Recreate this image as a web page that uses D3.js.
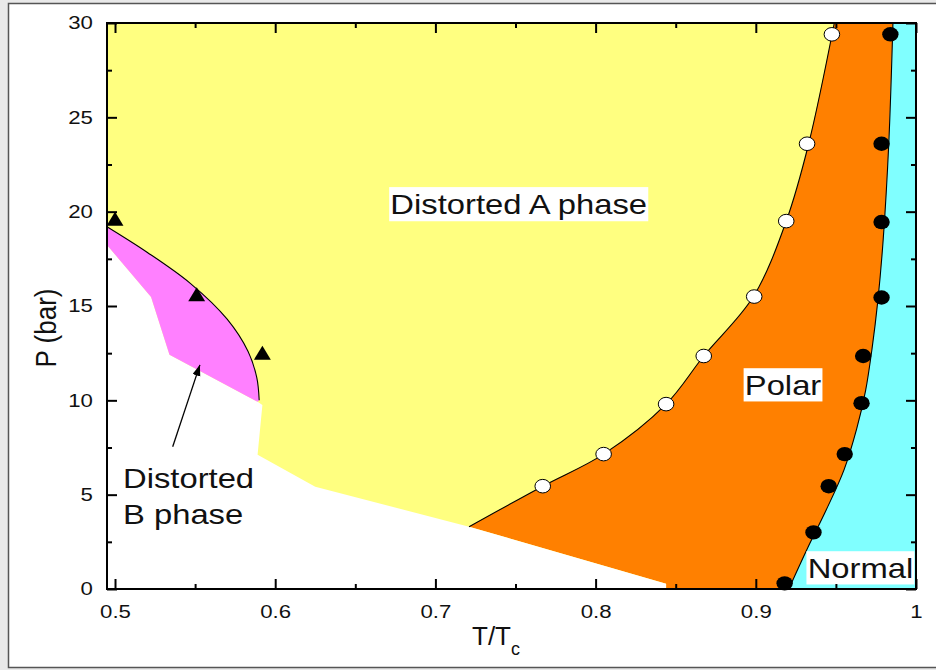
<!DOCTYPE html>
<html>
<head>
<meta charset="utf-8">
<script src="https://cdn.jsdelivr.net/npm/d3@7"></script>
<style>
  html, body { margin: 0; padding: 0; background: #e9e9e9; }
  svg { display: block; font-family: "Liberation Sans", Arial, sans-serif; }
</style>
</head>
<body>
<svg id="chart" width="936" height="670"></svg>
<script>
// phase boundaries, points are [T/Tc, P (bar)]
var bPhaseUpper = [[0.495, 19.2], [0.520, 17.85], [0.547, 16.2], [0.570, 14.3], [0.583, 12.6], [0.5885, 11.2], [0.590, 10.0]];
var bPhaseLower = [[0.589, 9.92], [0.534, 12.41], [0.5225, 15.48], [0.495, 18.23]];
var whiteEdge = [[0.592, 9.75], [0.589, 7.11], [0.625, 5.42], [0.721, 3.30], [0.844, 0.28], [0.844, 0]];
var apLine = [[0.721, 3.30], [0.767, 5.45], [0.805, 7.15], [0.844, 9.8], [0.8675, 12.35], [0.8985, 15.5], [0.919, 19.5], [0.933, 23.6], [0.949, 30]];
var pnLine = [[0.9206, 0], [0.9325, 2.2], [0.944, 4.2], [0.955, 6.3], [0.963, 8.5], [0.9685, 10.5], [0.9725, 12.7], [0.9762, 15.3], [0.9795, 18.5], [0.983, 23.6], [0.9856, 30]];

// measured points
var triPts = [[0.5, 19.5], [0.551, 15.5], [0.592, 12.4]];
var openPts = [[0.767, 5.45], [0.805, 7.15], [0.844, 9.8], [0.8675, 12.35], [0.899, 15.5], [0.919, 19.5], [0.932, 23.6], [0.9475, 29.4]];
var filledPts = [[0.918, 0.3], [0.936, 3.0], [0.9455, 5.45], [0.9555, 7.15], [0.966, 9.85], [0.967, 12.35], [0.9785, 15.45], [0.9785, 19.45], [0.9785, 23.6], [0.984, 29.4]];

// axes
var xTicks = [0.5, 0.6, 0.7, 0.8, 0.9, 1.0];
var xTickLabels = ["0.5", "0.6", "0.7", "0.8", "0.9", "1"];
var xMinor = [0.55, 0.65, 0.75, 0.85, 0.95];
var yTicks = [0, 5, 10, 15, 20, 25, 30];
var yMinor = [2.5, 7.5, 12.5, 17.5, 22.5, 27.5];

// phase names
var boxLabels = [
  { text: "Distorted A phase", t: 0.752, p: 20.4 },
  { text: "Polar", t: 0.917, p: 10.8 },
  { text: "Normal", t: 0.9653, p: 1.1 }
];
var bLabel = { lines: ["Distorted", "B phase"], t: 0.505, p: 5.36 };
var bArrow = [[0.536, 7.54], [0.553, 11.88]];

var svg = d3.select("#chart");
var sx = 1.17; // the original is stretched sideways a little

svg.append("rect").attr("x", 8.5).attr("y", 3.5).attr("width", 940).attr("height", 664)
  .attr("fill", "white").attr("stroke", "#555").attr("stroke-width", 1.5);

var x = d3.scaleLinear().domain([0.495, 1.0]).range([107, 916]);
var y = d3.scaleLinear().domain([0, 30]).range([589, 23]);

function px(d) { return [x(d[0]), y(d[1])]; }
var curve = d3.line().x(function(d) { return x(d[0]); }).y(function(d) { return y(d[1]); }).curve(d3.curveCatmullRom.alpha(0.5));
function lineTo(pts) { return pts.map(function(d) { return "L" + px(d).join(","); }).join(""); }

var plot = svg.append("g");
plot.append("rect").attr("x", x(0.495)).attr("y", y(30)).attr("width", x(1.0) - x(0.495)).attr("height", y(0) - y(30))
  .attr("fill", "#FFFF80");

// polar
plot.append("path")
  .attr("d", curve(apLine) + lineTo([[1.0, 30], [1.0, 0], [0.844, 0], [0.844, 0.28]]) + "Z")
  .attr("fill", "#FF8000");
// normal
plot.append("path")
  .attr("d", curve(pnLine) + lineTo([[1.0, 30], [1.0, 0]]) + "Z")
  .attr("fill", "#80FFFF");
// white region (no phase)
plot.append("path")
  .attr("d", "M" + px([0.495, 0]).join(",") + lineTo([[0.495, 18.23]].concat(bPhaseLower.slice().reverse(), whiteEdge)) + "Z")
  .attr("fill", "white");
// distorted B
plot.append("path")
  .attr("d", curve(bPhaseUpper) + lineTo(bPhaseLower) + "Z")
  .attr("fill", "#FF80FF");

// boundary lines
[bPhaseUpper, apLine, pnLine].forEach(function(pts) {
  plot.append("path").attr("d", curve(pts)).attr("fill", "none").attr("stroke", "black").attr("stroke-width", 1.1);
});

// points
plot.selectAll("path.tri").data(triPts).enter().append("path")
  .attr("class", "tri")
  .attr("transform", function(d) { return "translate(" + px(d) + ") scale(1.05,1)"; })
  .attr("d", d3.symbol(d3.symbolTriangle, 112))
  .attr("fill", "black");
plot.selectAll("ellipse.open").data(openPts).enter().append("ellipse")
  .attr("cx", function(d) { return x(d[0]); }).attr("cy", function(d) { return y(d[1]); })
  .attr("rx", 7.8).attr("ry", 6.8)
  .attr("fill", "white").attr("stroke", "black").attr("stroke-width", 1);
plot.selectAll("ellipse.fill").data(filledPts).enter().append("ellipse")
  .attr("cx", function(d) { return x(d[0]); }).attr("cy", function(d) { return y(d[1]); })
  .attr("rx", 8.2).attr("ry", 7.2)
  .attr("fill", "black");

// labels with white boxes
boxLabels.forEach(function(l) {
  var g = svg.append("g").attr("transform", "translate(" + x(l.t) + "," + y(l.p) + ") scale(" + sx + ",1)");
  var r = g.append("rect").attr("fill", "white");
  var t = g.append("text").attr("text-anchor", "middle").attr("y", 9.7)
    .attr("font-size", 28).attr("fill", "#111").text(l.text);
  var bb = t.node().getBBox();
  r.attr("x", bb.x - 1).attr("y", bb.y - 1).attr("width", bb.width + 2).attr("height", bb.height + 2);
});

var bt = svg.append("g").attr("transform", "translate(" + x(bLabel.t) + "," + y(bLabel.p) + ") scale(" + sx + ",1)");
bt.selectAll("text").data(bLabel.lines).enter().append("text")
  .attr("y", function(d, i) { return i * 36; })
  .attr("font-size", 28).attr("fill", "#111")
  .text(function(d) { return d; });

svg.append("defs").append("marker")
  .attr("id", "head").attr("markerUnits", "userSpaceOnUse")
  .attr("markerWidth", 12).attr("markerHeight", 10).attr("refX", 11).attr("refY", 4).attr("orient", "auto")
  .append("path").attr("d", "M0,0L11,4L0,8Z").attr("fill", "black");
svg.append("line")
  .attr("x1", x(bArrow[0][0])).attr("y1", y(bArrow[0][1]))
  .attr("x2", x(bArrow[1][0])).attr("y2", y(bArrow[1][1]))
  .attr("stroke", "black").attr("stroke-width", 1.3).attr("marker-end", "url(#head)");

// axes, ticks point inward
function styleAxis(g) {
  g.select(".domain").remove();
  g.selectAll(".tick line").attr("stroke", "black").attr("stroke-width", 2);
}
var h = y(0), w = x(1.0);
svg.append("g").attr("transform", "translate(0," + h + ")")
  .call(d3.axisBottom(x).tickValues(xTicks).tickSize(-10).tickPadding(15.5)
    .tickFormat(function(d, i) { return xTickLabels[i]; }))
  .call(styleAxis)
  .call(function(g) {
    g.selectAll("text").attr("font-size", 19).attr("fill", "#111").attr("font-family", null)
      .attr("transform", "scale(" + sx + ",1)");
  });
svg.append("g").attr("transform", "translate(0," + h + ")")
  .call(d3.axisBottom(x).tickValues(xMinor).tickSize(-5).tickFormat("")).call(styleAxis);
svg.append("g").attr("transform", "translate(0," + y(30) + ")")
  .call(d3.axisTop(x).tickValues(xTicks).tickSize(-10).tickFormat("")).call(styleAxis);
svg.append("g").attr("transform", "translate(0," + y(30) + ")")
  .call(d3.axisTop(x).tickValues(xMinor).tickSize(-5).tickFormat("")).call(styleAxis);

svg.append("g").attr("transform", "translate(" + x(0.495) + ",0)")
  .call(d3.axisLeft(y).tickValues(yTicks).tickSize(-10).tickPadding(12))
  .call(styleAxis)
  .call(function(g) {
    g.selectAll("text").attr("font-size", 19).attr("fill", "#111").attr("font-family", null)
      .attr("dy", "0.3em").attr("transform", "scale(" + sx + ",1)");
  });
svg.append("g").attr("transform", "translate(" + x(0.495) + ",0)")
  .call(d3.axisLeft(y).tickValues(yMinor).tickSize(-5).tickFormat("")).call(styleAxis);
svg.append("g").attr("transform", "translate(" + w + ",0)")
  .call(d3.axisRight(y).tickValues(yTicks).tickSize(-10).tickFormat("")).call(styleAxis);
svg.append("g").attr("transform", "translate(" + w + ",0)")
  .call(d3.axisRight(y).tickValues(yMinor).tickSize(-5).tickFormat("")).call(styleAxis);

// frame
svg.append("rect").attr("x", x(0.495)).attr("y", y(30)).attr("width", w - x(0.495)).attr("height", h - y(30))
  .attr("fill", "none").attr("stroke", "black").attr("stroke-width", 2);

// axis titles
svg.append("text").attr("transform", "translate(45,328) scale(" + sx + ",1) rotate(-90)")
  .attr("text-anchor", "middle").attr("dy", "0.35em").attr("font-size", 26).attr("fill", "#111")
  .text("P (bar)");
var xt = svg.append("text").attr("x", 472).attr("y", 645).attr("font-size", 26).attr("fill", "#111");
xt.append("tspan").text("T/T");
xt.append("tspan").attr("font-size", 18).attr("dy", 10).text("c");
</script>
</body>
</html>
